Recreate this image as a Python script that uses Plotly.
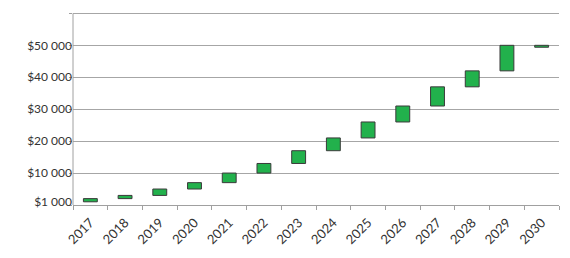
import plotly.graph_objects as go

years = ["2017", "2018", "2019", "2020", "2021", "2022", "2023", "2024",
         "2025", "2026", "2027", "2028", "2029", "2030"]
lows = [1000, 2000, 3000, 5000, 7000, 10000, 13000, 17000,
        21000, 26000, 31000, 37000, 42000, 49400]
highs = [2000, 3000, 5000, 7000, 10000, 13000, 17000, 21000,
         26000, 31000, 37000, 42000, 50000, 50000]
tick_vals = [1000, 10000, 20000, 30000, 40000, 50000]
tick_text = ["$1 000", "$10 000", "$20 000", "$30 000", "$40 000", "$50 000"]
grid_step = 10000
grid_top = 60000

GRID = "#a6a6a6"

fig = go.Figure()
fig.add_trace(go.Bar(
    x=years,
    y=[h - l for h, l in zip(highs, lows)],
    base=lows,
    width=0.4,
    marker=dict(color="#22B14C", line=dict(color="#3a3a3a", width=1)),
    showlegend=False,
    hoverinfo="skip",
))

font = dict(family="Lato, Open Sans, sans-serif", size=12, color="#333333")

fig.update_layout(
    width=570, height=258,
    margin=dict(l=73, r=11, t=7, b=53),
    paper_bgcolor="white", plot_bgcolor="white",
    font=font,
    xaxis=dict(
        type="category", tickangle=-45, tickson="boundaries",
        ticks="outside", ticklen=4, tickcolor="#a0a0a0",
        showline=True, linecolor="#a0a0a0", linewidth=1,
        showgrid=False, tickfont=dict(size=13, color="#333333"),
        ticklabelstandoff=4,
    ),
    yaxis=dict(
        range=[0, grid_top * 62 / 60], tickvals=tick_vals, ticktext=tick_text,
        showgrid=False,
        showline=False,
        ticks="", zeroline=False, tickfont=dict(size=12, color="#333333"),
        minor=dict(tick0=0, dtick=grid_step, showgrid=True, gridcolor=GRID,
                   gridwidth=1, ticks="outside", ticklen=3, tickcolor="#a0a0a0"),
    ),
    shapes=[dict(type="line", xref="paper", x0=0, x1=0, yref="y",
                 y0=0, y1=grid_top, line=dict(color="#a0a0a0", width=1))],
    bargap=0.6,
)

fig.write_html("out.html")
